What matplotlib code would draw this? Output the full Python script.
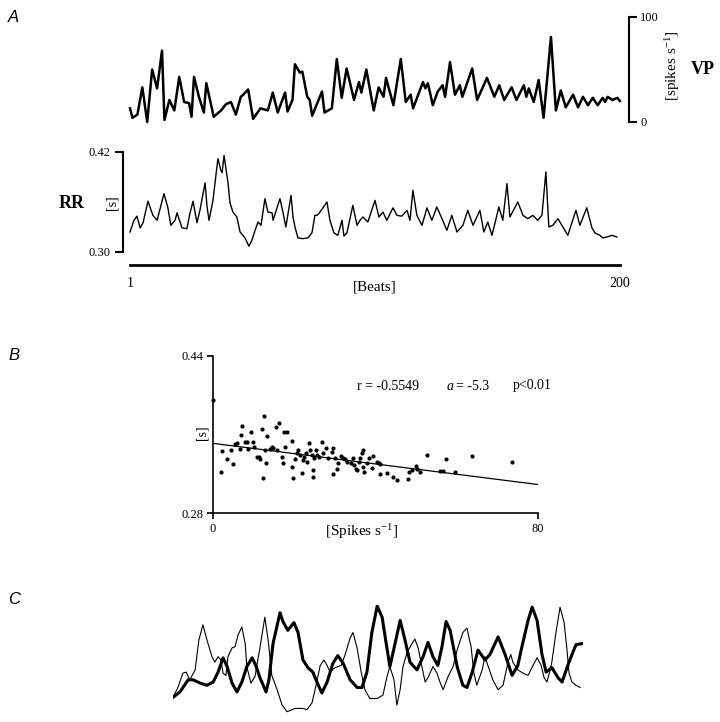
import matplotlib
matplotlib.use("Agg")
import matplotlib.pyplot as plt

SERIF = ["Liberation Serif", "DejaVu Serif"]
SANS = ["Liberation Sans", "DejaVu Sans"]

plt.rcParams["mathtext.fontset"] = "custom"
plt.rcParams["mathtext.rm"] = "Liberation Serif"
plt.rcParams["mathtext.default"] = "regular"

# ---- panel A: VP firing rate per beat (spikes/s)
vp_beats = [1, 2, 4, 6, 8, 10, 12, 14, 15, 17, 19, 21, 23, 25, 26, 27, 29, 31, 32, 35,
            38, 40, 42, 44, 46, 47, 49, 51, 54, 57, 59, 61, 64, 65, 67, 68, 70, 71, 73, 74,
            75, 79, 80, 83, 85, 87, 89, 92, 94, 95, 97, 100, 102, 104, 105, 108, 111, 113, 115, 116,
            120, 121, 122, 124, 126, 128, 129, 131, 133, 135, 136, 140, 142, 146, 149, 151, 153, 156, 158, 161,
            162, 163, 165, 167, 169, 172, 174, 176, 178, 181, 183, 185, 187, 189, 191, 193, 194, 195, 197, 199,
            200]
vp_rate = [13, 4, 7, 33, 0, 50, 32, 68, 2, 21, 11, 43, 19, 18, 5, 43, 24, 9, 37, 5,
           11, 17, 19, 7, 24, 26, 31, 3, 13, 11, 28, 9, 28, 10, 21, 55, 47, 48, 24, 21,
           6, 29, 9, 13, 60, 23, 51, 21, 38, 28, 50, 11, 33, 24, 42, 16, 60, 19, 26, 13,
           38, 32, 37, 16, 29, 35, 24, 57, 26, 35, 24, 51, 21, 42, 24, 35, 21, 33, 21, 35,
           24, 32, 19, 40, 4, 81, 11, 30, 14, 26, 14, 24, 16, 23, 16, 23, 19, 24, 21, 23,
           20]

# ---- panel A: RR interval per beat (s)
rr_beats = [1, 2.6, 3.8, 5.1, 6.3, 8.3, 10.3, 12.0, 14.8, 16.4, 17.6, 19.3, 20.1, 22.1, 24.1,
            25.4, 26.6, 28.2, 29.4, 31.5, 32.3, 33.1, 34.7, 36.7, 37.9, 38.4, 39.2, 40.8, 41.6,
            42.8, 44.4, 45.7, 47.7, 49.3, 50.5, 51.8, 53.0, 54.2, 55.8, 57.0, 58.7, 59.1, 61.9,
            63.1, 64.3, 66.4, 67.2, 68.0, 69.2, 71.2, 73.3, 74.9, 76.1, 76.9, 77.7, 81.0, 82.2,
            83.8, 85.4, 87.1, 87.9, 89.1, 91.5, 93.2, 94.4, 95.6, 97.6, 100.5, 102.1, 103.7,
            105.3, 107.8, 109.4, 111.4, 113.5, 114.7, 115.9, 117.5, 119.6, 121.6, 123.6, 125.6,
            127.7, 129.7, 131.7, 133.8, 136.2, 138.2, 140.3, 143.1, 144.7, 146.3, 148.0, 150.0,
            150.8, 152.4, 154.1, 155.3, 158.5, 160.6, 162.6, 164.6, 166.6, 168.3, 169.9, 171.1,
            172.7, 174.8, 176.8, 178.8, 182.1, 183.7, 186.5, 188.6, 189.8, 191.8, 193.0, 194.7,
            196.7, 198.7]
rr_sec = [0.324, 0.338, 0.343, 0.329, 0.335, 0.361, 0.344, 0.338, 0.370, 0.353, 0.332, 0.338, 0.347, 0.329, 0.328,
          0.347, 0.361, 0.335, 0.350, 0.383, 0.354, 0.338, 0.362, 0.412, 0.398, 0.395, 0.416, 0.383, 0.359,
          0.348, 0.342, 0.324, 0.317, 0.307, 0.314, 0.326, 0.336, 0.332, 0.364, 0.348, 0.347, 0.338, 0.364,
          0.348, 0.330, 0.368, 0.342, 0.330, 0.317, 0.316, 0.317, 0.323, 0.344, 0.344, 0.346, 0.360, 0.338,
          0.323, 0.320, 0.338, 0.319, 0.323, 0.356, 0.332, 0.338, 0.342, 0.336, 0.362, 0.342, 0.348,
          0.338, 0.353, 0.344, 0.343, 0.350, 0.338, 0.374, 0.344, 0.332, 0.353, 0.338, 0.354,
          0.340, 0.326, 0.344, 0.324, 0.332, 0.350, 0.332, 0.350, 0.324, 0.336, 0.320, 0.344,
          0.354, 0.338, 0.382, 0.342, 0.360, 0.344, 0.340, 0.344, 0.338, 0.344, 0.396, 0.330,
          0.332, 0.340, 0.330, 0.320, 0.350, 0.332, 0.353, 0.329, 0.323, 0.320, 0.317, 0.318,
          0.320, 0.318]

# ---- panel B: RR interval vs VP firing rate
spk_rate = [0.0, 2.2, 2.0, 3.4, 4.4, 4.9, 5.4, 5.9, 6.6, 6.9, 7.1, 7.9, 8.4, 8.6, 9.4, 9.8, 10.1,
            10.8, 11.3, 11.6, 12.1, 12.3, 12.6, 12.8, 13.0, 13.3, 14.0, 14.5, 14.8, 15.5, 15.8, 16.2,
            17.0, 17.2, 17.5, 18.2, 17.7, 19.4, 19.4, 19.7, 20.2, 20.7, 20.9, 21.4, 21.9, 22.2, 22.4,
            22.9, 23.1, 23.6, 23.9, 24.4, 24.6, 24.6, 24.9, 25.4, 25.6, 26.1, 26.8, 27.1, 27.8, 28.3,
            29.3, 29.5, 29.5, 30.0, 30.5, 30.8, 31.5, 32.0, 32.5, 33.0, 34.0, 34.5, 34.7, 35.2, 35.5,
            35.9, 36.2, 36.7, 36.9, 36.9, 37.2, 37.9, 38.4, 39.1, 39.4, 40.4, 40.9, 41.1, 41.1, 42.8,
            44.3, 45.3, 48.0, 48.3, 49.0, 50.0, 50.2, 51.0, 52.7, 55.9, 56.6, 57.4, 59.6, 63.8, 73.6]
rr_interval = [0.395, 0.343, 0.322, 0.335, 0.344, 0.330, 0.350, 0.351, 0.345, 0.360, 0.369, 0.352, 0.352, 0.345, 0.363, 0.352, 0.347,
               0.337, 0.337, 0.335, 0.366, 0.316, 0.379, 0.344, 0.331, 0.358, 0.345, 0.347, 0.346, 0.368, 0.344, 0.372,
               0.337, 0.331, 0.363, 0.363, 0.347, 0.353, 0.327, 0.316, 0.335, 0.341, 0.344, 0.339, 0.321, 0.334, 0.337,
               0.341, 0.332, 0.351, 0.344, 0.339, 0.317, 0.324, 0.336, 0.344, 0.339, 0.337, 0.352, 0.341, 0.346, 0.336,
               0.342, 0.346, 0.320, 0.336, 0.325, 0.331, 0.338, 0.336, 0.335, 0.332, 0.331, 0.336, 0.329, 0.325, 0.324,
               0.332, 0.336, 0.341, 0.344, 0.327, 0.322, 0.331, 0.336, 0.326, 0.338, 0.332, 0.331, 0.320, 0.330, 0.321,
               0.317, 0.314, 0.315, 0.322, 0.324, 0.328, 0.325, 0.322, 0.339, 0.323, 0.323, 0.335, 0.322, 0.338, 0.332]
fit_x = [0, 80]
fit_y = [0.351, 0.309]

# ---- panel C: superimposed smoothed traces (arbitrary units)
thin_t = [0.0, 1.2, 2.4, 3.2, 4.1, 5.4, 6.3, 7.3, 8.3, 9.5, 10.2, 11.0, 11.7, 12.2, 12.9, 13.4, 14.4,
          15.1, 15.9, 16.8, 17.6, 18.0, 19.0, 20.0, 21.2, 22.4, 23.2, 24.1, 25.4, 26.6, 27.8, 29.8,
          31.5, 32.7, 33.9, 34.9, 35.9, 36.8, 37.6, 38.3, 39.5, 41.0, 42.0, 43.2, 43.9, 44.9, 45.9,
          46.8, 48.0, 49.8, 51.2, 52.2, 52.9, 53.9, 54.6, 55.4, 56.1, 57.1, 58.3, 59.0, 59.8, 60.7,
          61.5, 62.2, 63.4, 64.4, 65.1, 65.9, 67.1, 68.3, 69.3, 70.7, 71.7, 72.7, 73.4, 74.1, 75.4,
          76.1, 76.8, 78.0, 79.3, 80.5, 81.7, 82.4, 82.9, 84.1, 85.4, 86.6, 87.8, 88.8, 89.8, 90.5,
          91.2, 92.0, 92.4, 93.4, 94.4, 95.4, 96.1, 96.6, 97.3, 98.3, 99.3]
thin_v = [16, 25, 38, 39, 32, 41, 68, 82, 68, 53, 48, 53, 50, 38, 36, 53, 61,
          62, 73, 80, 65, 44, 29, 35, 61, 89, 68, 36, 23, 9, 3, 6,
          6, 5, 11, 27, 45, 50, 45, 39, 43, 45, 55, 70, 75, 61, 39,
          23, 15, 15, 18, 35, 44, 32, 9, 23, 44, 57, 65, 69, 61, 44,
          30, 34, 44, 38, 30, 23, 35, 44, 59, 75, 79, 62, 38, 27, 41,
          53, 45, 32, 23, 27, 48, 55, 48, 41, 38, 36, 45, 52, 45, 34,
          30, 41, 48, 75, 98, 84, 59, 38, 30, 27, 25]
thick_t = [0.0, 1.7, 3.7, 4.9, 6.6, 8.3, 9.8, 11.0, 12.2, 13.2, 14.4, 15.6, 16.8, 18.0, 19.3, 20.2,
           21.2, 22.7, 23.4, 24.4, 26.1, 26.8, 28.0, 29.5, 30.5, 31.7, 32.9, 34.1, 35.1, 36.3, 37.6,
           39.0, 40.2, 41.5, 43.2, 44.9, 46.1, 47.3, 48.5, 49.8, 51.0, 52.0, 52.9, 54.1, 55.4, 56.6,
           57.8, 59.5, 61.0, 62.2, 63.4, 64.6, 65.6, 66.6, 67.6, 69.3, 70.7, 71.7, 72.9, 74.4, 76.1,
           77.3, 79.3, 81.0, 82.7, 84.1, 85.1, 86.6, 87.6, 88.8, 90.0, 91.0, 92.4, 93.9, 94.9, 96.1,
           97.1, 98.3, 100.0]
thick_v = [16, 21, 32, 32, 29, 27, 30, 39, 52, 44, 29, 21, 30, 44, 52, 45,
           34, 21, 32, 65, 93, 85, 77, 84, 75, 50, 43, 39, 30, 20, 30,
           47, 54, 47, 32, 25, 25, 39, 75, 99, 89, 65, 44, 64, 86, 68,
           48, 41, 53, 66, 53, 45, 62, 85, 77, 44, 27, 25, 38, 59, 50,
           55, 71, 55, 36, 45, 62, 86, 98, 86, 55, 39, 43, 34, 30, 43,
           53, 64, 65]

W, H = 720, 722


def rect(x0, y0, x1, y1):
    # pixel box (top-left origin) -> figure fraction
    return [x0 / W, 1 - y1 / H, (x1 - x0) / W, (y1 - y0) / H]


def ftext(x, y, s, **kw):
    fig.text(x / W, 1 - y / H, s, **kw)


fig = plt.figure(figsize=(7.2, 7.22), dpi=100)

# VP trace with scale bar on the right
ax_vp = fig.add_axes(rect(130, 17, 629, 122))
ax_vp.plot(vp_beats, vp_rate, color="black", lw=1.8, solid_joinstyle="round", clip_on=False)
ax_vp.set_xlim(1, 203.7)
ax_vp.set_ylim(0, 100)
for side in ["left", "top", "bottom"]:
    ax_vp.spines[side].set_visible(False)
ax_vp.spines["right"].set_linewidth(1.5)
ax_vp.set_xticks([])
ax_vp.yaxis.tick_right()
ax_vp.set_yticks([0, 100])
ax_vp.set_yticklabels(["0", "100"], fontfamily=SERIF, fontsize=9)
ax_vp.tick_params(axis="y", direction="out", length=6, width=1.5, pad=2)
ax_vp.patch.set_alpha(0)

# RR trace
ax_rr = fig.add_axes(rect(123, 152, 620, 265))
ax_rr.plot(rr_beats, rr_sec, color="black", lw=1.0, clip_on=False)
ax_rr.set_xlim(-1.84, 200)
ax_rr.set_ylim(0.2844, 0.42)
ax_rr.spines["top"].set_visible(False)
ax_rr.spines["right"].set_visible(False)
ax_rr.spines["left"].set_bounds(0.30, 0.42)
ax_rr.spines["left"].set_linewidth(1.5)
ax_rr.spines["bottom"].set_bounds(1, 200)
ax_rr.spines["bottom"].set_linewidth(2.0)
ax_rr.set_yticks([0.30, 0.42])
ax_rr.set_yticklabels(["0.30", "0.42"], fontfamily=SERIF, fontsize=9)
ax_rr.tick_params(axis="y", direction="out", length=6, width=1.5, pad=3)
ax_rr.set_xticks([1, 200])
ax_rr.set_xticklabels(["1", "200"], fontfamily=SERIF, fontsize=10)
ax_rr.tick_params(axis="x", length=0, pad=9)
ax_rr.patch.set_alpha(0)

# scatter RR vs VP
ax_b = fig.add_axes(rect(213, 356, 538, 513))
ax_b.scatter(spk_rate, rr_interval, s=9, color="black", linewidths=0, clip_on=False)
ax_b.plot(fit_x, fit_y, color="black", lw=0.9)
ax_b.set_xlim(0, 80)
ax_b.set_ylim(0.28, 0.44)
ax_b.spines["top"].set_visible(False)
ax_b.spines["right"].set_visible(False)
ax_b.spines["left"].set_linewidth(1.2)
ax_b.spines["bottom"].set_linewidth(1.2)
ax_b.set_xticks([0, 80])
ax_b.set_xticklabels(["0", "80"], fontfamily=SERIF, fontsize=9)
ax_b.set_yticks([0.28, 0.44])
ax_b.set_yticklabels(["0.28", "0.44"], fontfamily=SERIF, fontsize=9)
ax_b.tick_params(direction="out", length=4, width=1.2, pad=3)

# superimposed traces
ax_c = fig.add_axes(rect(173, 605, 583, 715))
ax_c.plot(thin_t, thin_v, color="black", lw=0.8)
ax_c.plot(thick_t, thick_v, color="black", lw=2.2, solid_joinstyle="round")
ax_c.set_xlim(0, 100)
ax_c.set_ylim(0, 100)
ax_c.axis("off")

# labels
ftext(673, 66, "[spikes s$^{-1}$]", rotation=90, ha="center", va="center",
      fontfamily=SERIF, fontsize=11)
ftext(703, 70, "VP", ha="center", va="center", fontfamily=SERIF,
      fontsize=13, fontweight="bold")
ftext(72, 203, "RR", ha="center", va="center", fontfamily=SERIF,
      fontsize=13, fontweight="bold")
ftext(112, 203, "[s]", rotation=90, ha="center", va="center",
      fontfamily=SERIF, fontsize=10)
ftext(375, 287, "[Beats]", ha="center", va="center", fontfamily=SERIF, fontsize=11)

ftext(202, 433, "[s]", rotation=90, ha="center", va="center",
      fontfamily=SERIF, fontsize=10)
ftext(362, 532, "[Spikes s$^{-1}$]", ha="center", va="center",
      fontfamily=SERIF, fontsize=11)
ftext(357, 386, "r = -0.5549", ha="left", va="center", fontfamily=SERIF, fontsize=10)
ftext(447, 386, "a", ha="left", va="center", fontfamily=SERIF, fontsize=10, style="italic")
ftext(456, 386, "= -5.3", ha="left", va="center", fontfamily=SERIF, fontsize=10)
ftext(513, 386, "p<0.01", ha="left", va="center", fontfamily=SERIF, fontsize=10)

ftext(8, 18, "A", ha="left", va="center", fontfamily=SANS, fontsize=12, style="italic")
ftext(8, 356, "B", ha="left", va="center", fontfamily=SANS, fontsize=12, style="italic")
ftext(8, 600, "C", ha="left", va="center", fontfamily=SANS, fontsize=12, style="italic")

fig.savefig("out.png", dpi=100)
